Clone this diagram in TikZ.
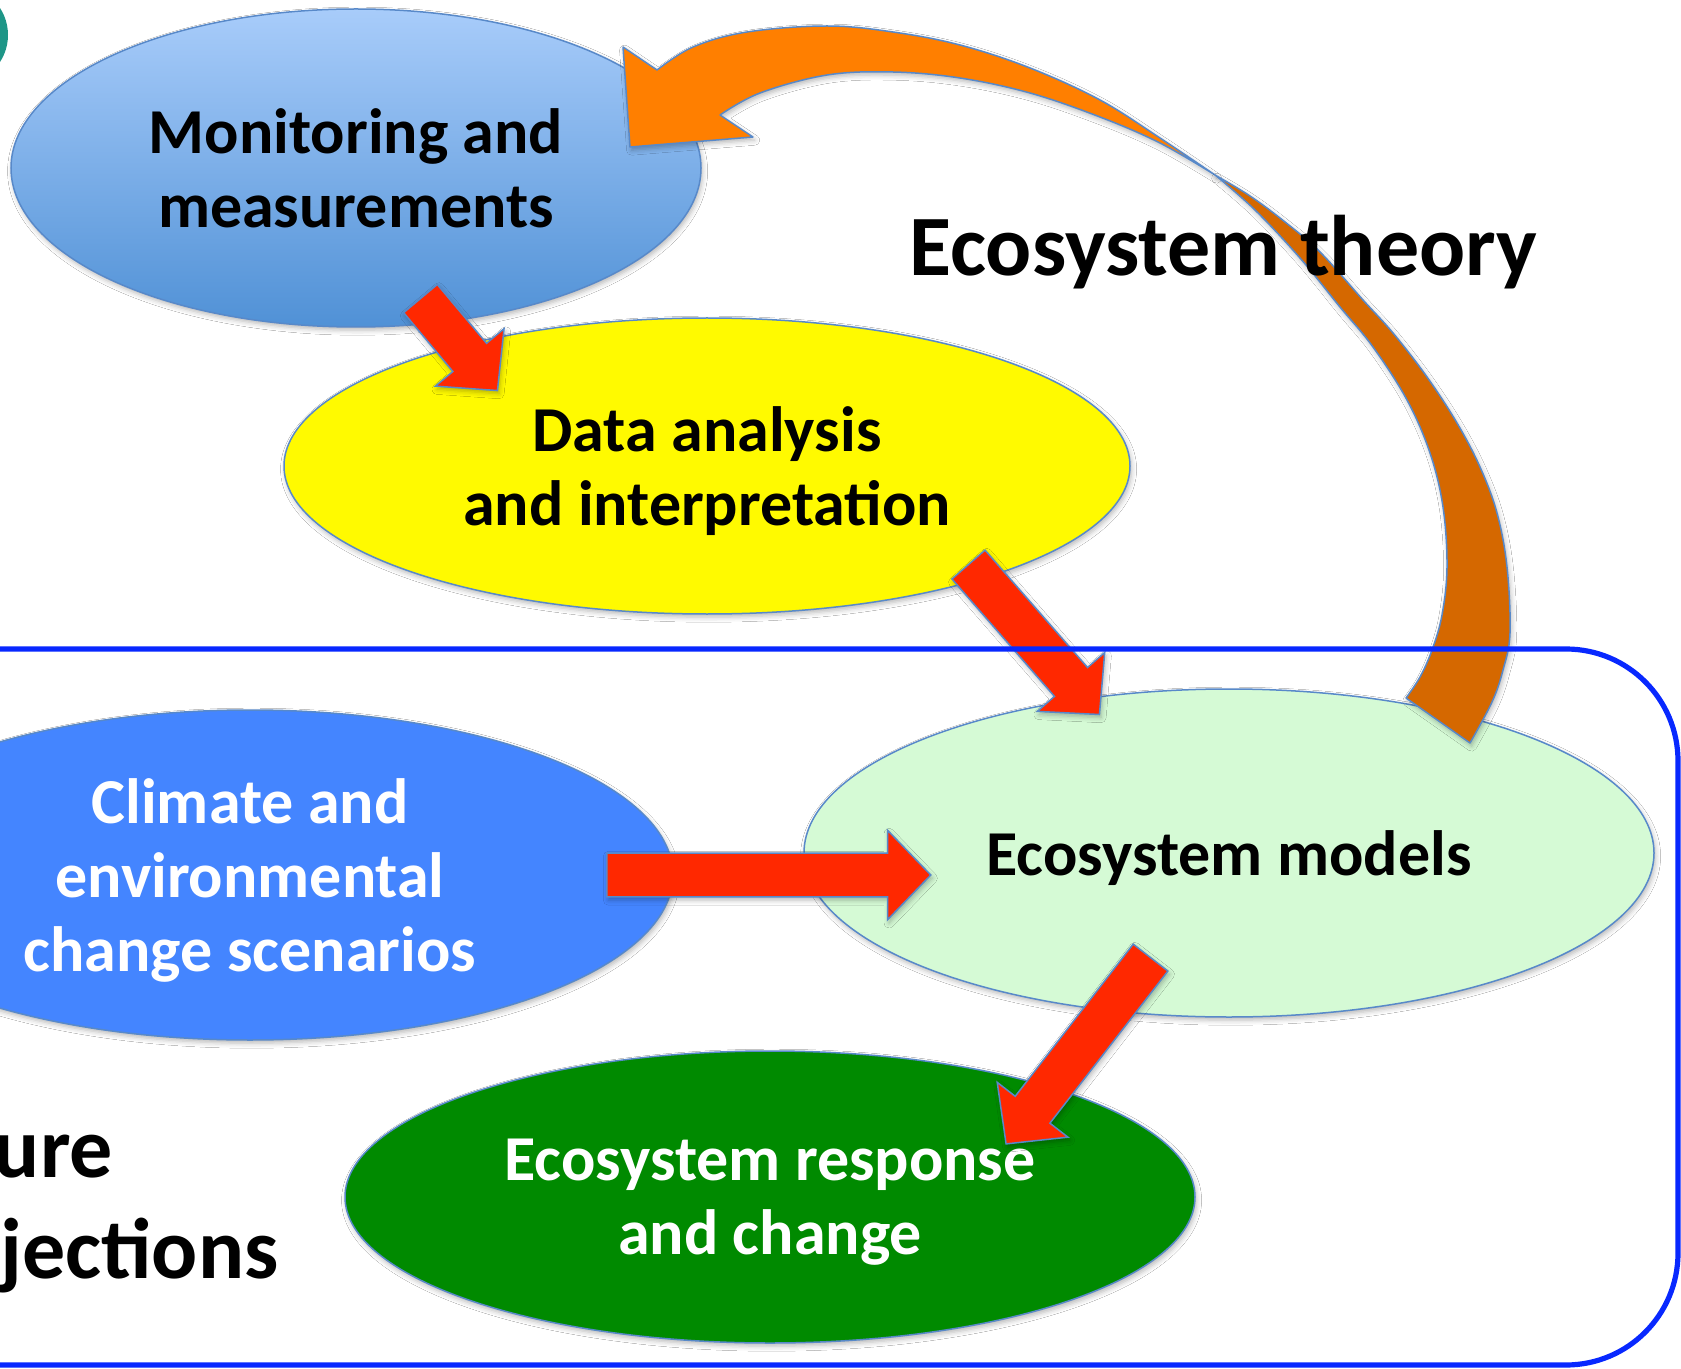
\documentclass[tikz,border=0pt]{standalone}
\usepackage{fontspec}
\setmainfont{Carlito}
\usetikzlibrary{calc,shapes.geometric,shapes.arrows,shadows.blur}

\definecolor{ovaledge}{RGB}{88,137,201}
\definecolor{montop}{RGB}{168,204,250}
\definecolor{monbottom}{RGB}{80,145,214}
\definecolor{datayellow}{RGB}{255,250,0}
\definecolor{climblue}{RGB}{68,133,255}
\definecolor{modelgreen}{RGB}{213,250,213}
\definecolor{respgreen}{RGB}{0,138,0}
\definecolor{arrowred}{RGB}{255,40,0}
\definecolor{loopfront}{RGB}{255,127,0}
\definecolor{loopback}{RGB}{213,104,0}
\definecolor{frameblue}{RGB}{8,40,255}
\definecolor{dotteal}{RGB}{30,150,135}

\tikzset{
  softshadow/.style={blur shadow={shadow xshift=0.8pt, shadow yshift=-1.6pt,
      shadow opacity=28, shadow blur radius=2.5pt}},
  bubble/.style={ellipse, draw=ovaledge, line width=0.75pt, inner sep=0pt,
      align=center, text depth=0pt, softshadow,
      font=\fontsize{32}{37}\selectfont\bfseries},
  redarrow/.style={single arrow, draw=ovaledge, line width=0.75pt, fill=arrowred,
      inner xsep=0pt, inner ysep=10.6pt, minimum width=0pt,
      single arrow head extend=11.4pt, single arrow tip angle=92, softshadow},
  loopedge/.style={draw=ovaledge, line width=0.75pt, line join=round},
  bigtitle/.style={font=\fontsize{43}{50.5}\selectfont\bfseries, inner sep=0pt},
  frame/.style={draw=frameblue, line width=2.6pt, rounded corners=56pt}
}

\begin{document}
\begin{tikzpicture}[x=0.5pt, y=-0.5pt]
  \useasboundingbox (0,0) rectangle (1681,1369);
  \clip (0,0) rectangle (1681,1369);
  \fill[white] (0,0) rectangle (1681,1369);

  %% bit of a bubble sticking in from the left
  \fill[dotteal] (-41.5,35) circle [radius=24.75pt];

  %% bubbles
  \node[bubble, minimum width=345pt, minimum height=159pt,
        top color=montop, bottom color=monbottom] (monitoring) at (356,168)
        {Monitoring and\\measurements};
  \node[bubble, minimum width=423pt, minimum height=148pt, fill=datayellow]
        (analysis) at (707,466) {Data analysis\\and interpretation};
  \node[bubble, minimum width=423pt, minimum height=165pt, fill=climblue,
        text=white] (scenarios) at (250,875)
        {Climate and\\environmental\\change scenarios};
  \node[bubble, minimum width=425pt, minimum height=164pt, fill=modelgreen]
        (models) at (1229,853) {Ecosystem models};
  \node[bubble, minimum width=425pt, minimum height=146pt, fill=respgreen,
        text=white] (response) at (770,1197) {Ecosystem response\\and change};

  %% arrow ends
  \coordinate (mon-out)  at ($(monitoring)+(64,130)$);
  \coordinate (ana-in)   at ($(analysis)+(-210,-76)$);
  \coordinate (ana-out)  at ($(analysis)+(261,98)$);
  \coordinate (mod-top)  at ($(models)+(-130,-139)$);
  \coordinate (scen-out) at ($(scenarios)+(356,0)$);
  \coordinate (mod-left) at ($(models)+(-299,22)$);
  \coordinate (mod-out)  at ($(models)+(-78,104)$);
  \coordinate (resp-in)  at ($(response)+(236,-53)$);

  %% red block arrows
  \foreach \s/\t in {mon-out/ana-in, ana-out/mod-top, scen-out/mod-left, mod-out/resp-in} {
    \path let \p1 = ($(\t)-(\s)$), \n1 = {veclen(\x1,\y1)}, \n2 = {atan2(\y1,\x1)} in
      node[redarrow, anchor=tail, rotate=\n2, minimum height=\n1] at (\s) {};
  }

  %% feedback loop, front face up to the twist
  \path[loopedge, fill=loopfront, softshadow]
      (657,70) -- (623,47) -- (630,147) -- (753,137) -- (720,115)
      -- plot[smooth, tension=0.6] coordinates {(720,115) (760,93) (827,75) (893,72)
           (960,78) (1030,93) (1100,117) (1160,143) (1215,175)}
      -- plot[smooth, tension=0.6] coordinates {(1215,175) (1160,138) (1100,100)
           (1030,68) (960,45) (893,32) (827,26) (747,32) (693,47) (657,70)}
      -- cycle;
  %% back face down to the tail
  \path[loopedge, fill=loopback, softshadow]
      plot[smooth, tension=0.6] coordinates {(1215,175) (1250,196) (1285,222)
           (1320,252) (1363,300) (1393,333) (1427,377) (1457,423) (1480,467)
           (1497,513) (1507,567) (1510,633) (1503,670) (1492,702) (1470,743)}
      -- (1406,698)
      -- plot[smooth, tension=0.6] coordinates {(1406,698) (1420,677) (1432,650)
           (1442,615) (1447,567) (1443,507) (1430,453) (1407,400) (1373,347)
           (1340,307) (1300,258) (1255,210) (1215,175)}
      -- cycle;

  %% projections frame
  \draw[frame] (-40,649) -- (1678,649) -- (1678,1365) -- (-40,1365);

  %% titles
  \node[bigtitle, anchor=base west] (theory) at (909,276) {Ecosystem theory};
  \node[bigtitle, align=left, anchor=base west] (future) at (-122,1278)
        {Future\\projections};
\end{tikzpicture}
\end{document}
